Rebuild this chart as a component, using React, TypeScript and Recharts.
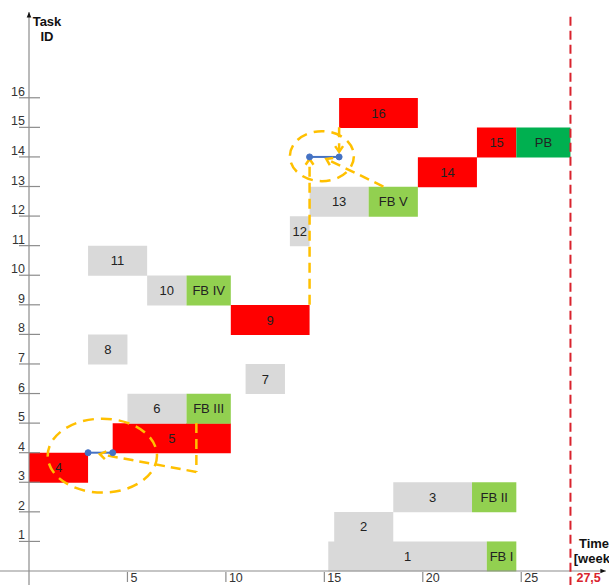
import React from "react";
import {
  BarChart,
  Bar,
  XAxis,
  YAxis,
  Cell,
  LabelList,
  ReferenceLine,
  ReferenceDot,
} from "recharts";

// tasks, bottom (1) to top (16); times in weeks
const taskIds = ["1", "2", "3", "4", "5", "6", "7", "8", "9", "10", "11", "12", "13", "14", "15", "16"];
const taskStart = [15.2, 15.5, 18.5, 0, 4.25, 5, 11, 3, 10.25, 6, 3, 13.25, 14.25, 19.75, 22.75, 15.75];
const taskEnd = [23.25, 18.5, 22.5, 3, 10.25, 8, 13, 5, 14.25, 8, 6, 14.25, 17.25, 22.75, 24.75, 19.75];
const bufferEnd = [24.75, 0, 24.75, 0, 0, 10.25, 0, 0, 0, 10.25, 0, 0, 19.75, 0, 27.5, 0];
const bufferNames = ["FB I", "", "FB II", "", "", "FB III", "", "", "", "FB IV", "", "", "FB V", "", "PB", ""];
const criticalTasks = ["4", "5", "9", "14", "15", "16"];

const xTicks = [5, 10, 15, 20, 25, 27.5];
const yTicks = [1, 2, 3, 4, 5, 6, 7, 8, 9, 10, 11, 12, 13, 14, 15, 16];
const deadline = 27.5;

// annotations (week, task id units)
const circles = [
  { x1: 0.95, x2: 6.5, y1: 2.65, y2: 5.15 },
  { x1: 13.25, x2: 16.5, y1: 13.18, y2: 14.87 },
];
const links = [
  { x1: 3, x2: 4.25, y: 4 },
  { x1: 14.25, x2: 15.75, y: 14 },
];
const arrows = [
  { x1: 8.5, y1: 5, x2: 8.5, y2: 3.35, head: false },
  { x1: 8.5, y1: 3.35, x2: 3.6, y2: 3.95, head: true },
  { x1: 14.25, y1: 9, x2: 14.25, y2: 13.93, head: true },
  { x1: 15.75, y1: 15, x2: 15.75, y2: 14.17, head: true },
  { x1: 18, y1: 13, x2: 15.1, y2: 13.93, head: true },
];

const GREY = "#d9d9d9";
const RED = "#ff0000";
const LIGHT_GREEN = "#92d050";
const DARK_GREEN = "#00b050";
const ORANGE = "#ffc000";
const BLUE = "#4472c4";
const AXIS = "#8c8c8c";
const AXIS_X = 29; // margin.left + y axis width

const data = taskIds.map((id, i) => ({
  task: id,
  row: i + 0.5,
  offset: taskStart[i],
  main: taskEnd[i] - taskStart[i],
  buffer: bufferEnd[i] ? bufferEnd[i] - taskEnd[i] : 0,
  bufferName: bufferNames[i],
  critical: criticalTasks.includes(id),
}));

function headPath(x1: number, y1: number, x2: number, y2: number, len: number, spread: number) {
  const a = Math.atan2(y2 - y1, x2 - x1);
  const ax = x2 - len * Math.cos(a - spread);
  const ay = y2 - len * Math.sin(a - spread);
  const bx = x2 - len * Math.cos(a + spread);
  const by = y2 - len * Math.sin(a + spread);
  return { ax, ay, bx, by };
}

const DashedArrow = (props: any) => {
  const { x1, y1, x2, y2, head } = props;
  const h = headPath(x1, y1, x2, y2, 7, 0.6);
  return (
    <g>
      <line x1={x1} y1={y1} x2={x2} y2={y2} stroke={ORANGE} strokeWidth={2.5} strokeDasharray="10 6" />
      {head && (
        <polyline
          points={`${h.ax},${h.ay} ${x2},${y2} ${h.bx},${h.by}`}
          fill="none"
          stroke={ORANGE}
          strokeWidth={2.5}
        />
      )}
    </g>
  );
};

const AxisArrow = (props: any) => {
  const { x1, y1, x2, y2 } = props;
  const h = headPath(x1, y1, x2, y2, 6, 0.4);
  return (
    <g>
      <line x1={x1} y1={y1} x2={x2} y2={y2} stroke={AXIS} strokeWidth={1.2} />
      <polygon points={`${h.ax},${h.ay} ${x2},${y2} ${h.bx},${h.by}`} fill="#111" />
    </g>
  );
};

// ellipse inscribed in the box spanned by the segment's two corners
const Ellipse = (props: any) => {
  const { x1, y1, x2, y2 } = props;
  return (
    <ellipse
      cx={(x1 + x2) / 2}
      cy={(y1 + y2) / 2}
      rx={Math.abs(x2 - x1) / 2}
      ry={Math.abs(y2 - y1) / 2}
      fill="none"
      stroke={ORANGE}
      strokeWidth={2.5}
      strokeDasharray="11 7"
    />
  );
};

const YTick = (props: any) => {
  const { y, payload } = props;
  return (
    <g>
      <line x1={AXIS_X - 10} x2={AXIS_X + 11} y1={y} y2={y} stroke={AXIS} strokeWidth={1.2} />
      <text x={AXIS_X - 4} y={y - 2} textAnchor="end" fontSize={12.5} fill="#333">
        {payload.value}
      </text>
    </g>
  );
};

const XTick = (props: any) => {
  const { x, y, payload } = props;
  if (payload.value === deadline) {
    return (
      <text x={x + 6} y={y + 11} fontSize={12.5} fontWeight="bold" fill="#d9232d">
        27,5
      </text>
    );
  }
  return (
    <g>
      <line x1={x} x2={x} y1={y + 1} y2={y + 11} stroke={AXIS} strokeWidth={1.2} />
      <text x={x + 3} y={y + 10.5} fontSize={12.5} fill="#333">
        {payload.value}
      </text>
    </g>
  );
};

export default function App() {
  return (
    <div
      style={{
        position: "absolute",
        left: 0,
        top: 0,
        width: 609,
        height: 585,
        overflow: "hidden",
        background: "#fff",
        fontFamily: "'Liberation Sans', Arial, sans-serif",
      }}
    >
      <BarChart
        width={609}
        height={585}
        data={data}
        layout="vertical"
        barCategoryGap={0}
        barGap={0}
        margin={{ top: 12, right: 9, bottom: 0, left: 0 }}
      >
        <XAxis
          type="number"
          domain={[0, 29]}
          allowDataOverflow
          ticks={xTicks}
          tick={<XTick />}
          axisLine={false}
          tickLine={false}
          tickSize={0}
          tickMargin={0}
          height={14}
          interval={0}
        />
        <YAxis
          yAxisId="cat"
          type="category"
          dataKey="task"
          reversed
          hide
          padding={{ top: 86, bottom: 0 }}
        />
        <YAxis
          yAxisId="num"
          type="number"
          dataKey="row"
          domain={[0, 18.9]}
          reversed
          allowDataOverflow
          ticks={yTicks}
          tick={<YTick />}
          interval={0}
          axisLine={false}
          tickLine={false}
          tickSize={0}
          tickMargin={0}
          width={29}
        />
        <Bar yAxisId="cat" dataKey="offset" stackId="t" fill="transparent" isAnimationActive={false} />
        <Bar yAxisId="cat" dataKey="main" stackId="t" isAnimationActive={false}>
          {data.map((d) => (
            <Cell key={d.task} fill={d.critical ? RED : GREY} />
          ))}
          <LabelList dataKey="task" position="center" fill="#222" fontSize={13} />
        </Bar>
        <Bar yAxisId="cat" dataKey="buffer" stackId="t" isAnimationActive={false}>
          {data.map((d) => (
            <Cell key={d.task} fill={d.bufferName === "PB" ? DARK_GREEN : LIGHT_GREEN} />
          ))}
          <LabelList dataKey="bufferName" position="center" fill="#222" fontSize={13} />
        </Bar>

        <ReferenceLine
          yAxisId="num"
          segment={[{ x: -1.5, y: 0 }, { x: 29.3, y: 0 }]}
          ifOverflow="visible"
          shape={<AxisArrow />}
        />
        <ReferenceLine
          yAxisId="num"
          segment={[{ x: 0, y: -0.5 }, { x: 0, y: 18.9 }]}
          ifOverflow="visible"
          shape={<AxisArrow />}
        />
        <ReferenceLine
          yAxisId="num"
          segment={[{ x: deadline, y: -0.5 }, { x: deadline, y: 18.9 }]}
          ifOverflow="visible"
          stroke="#d9232d"
          strokeWidth={2}
          strokeDasharray="9 5"
        />

        {circles.map((c, i) => (
          <ReferenceLine
            key={"c" + i}
            yAxisId="num"
            segment={[{ x: c.x1, y: c.y1 }, { x: c.x2, y: c.y2 }]}
            ifOverflow="visible"
            shape={<Ellipse />}
          />
        ))}
        {links.map((l, i) => (
          <ReferenceLine
            key={"l" + i}
            yAxisId="num"
            segment={[{ x: l.x1, y: l.y }, { x: l.x2, y: l.y }]}
            stroke={BLUE}
            strokeWidth={2}
            ifOverflow="visible"
          />
        ))}
        {links.flatMap((l, i) => [
          <ReferenceDot key={"da" + i} yAxisId="num" x={l.x1} y={l.y} r={3} fill={BLUE} stroke={BLUE} ifOverflow="visible" />,
          <ReferenceDot key={"db" + i} yAxisId="num" x={l.x2} y={l.y} r={3} fill={BLUE} stroke={BLUE} ifOverflow="visible" />,
        ])}
        {arrows.map((a, i) => (
          <ReferenceLine
            key={"a" + i}
            yAxisId="num"
            segment={[{ x: a.x1, y: a.y1 }, { x: a.x2, y: a.y2 }]}
            ifOverflow="visible"
            shape={<DashedArrow head={a.head} />}
          />
        ))}
      </BarChart>

      <div
        style={{
          position: "absolute",
          left: 31,
          top: 14,
          width: 32,
          textAlign: "center",
          fontSize: 13,
          fontWeight: "bold",
          lineHeight: "15px",
          color: "#111",
        }}
      >
        Task
        <br />
        ID
      </div>
      <div
        style={{
          position: "absolute",
          left: 573,
          top: 536,
          width: 42,
          textAlign: "center",
          fontSize: 13,
          fontWeight: "bold",
          lineHeight: "15px",
          color: "#111",
          whiteSpace: "nowrap",
        }}
      >
        Time
        <br />
        [week]
      </div>
    </div>
  );
}
